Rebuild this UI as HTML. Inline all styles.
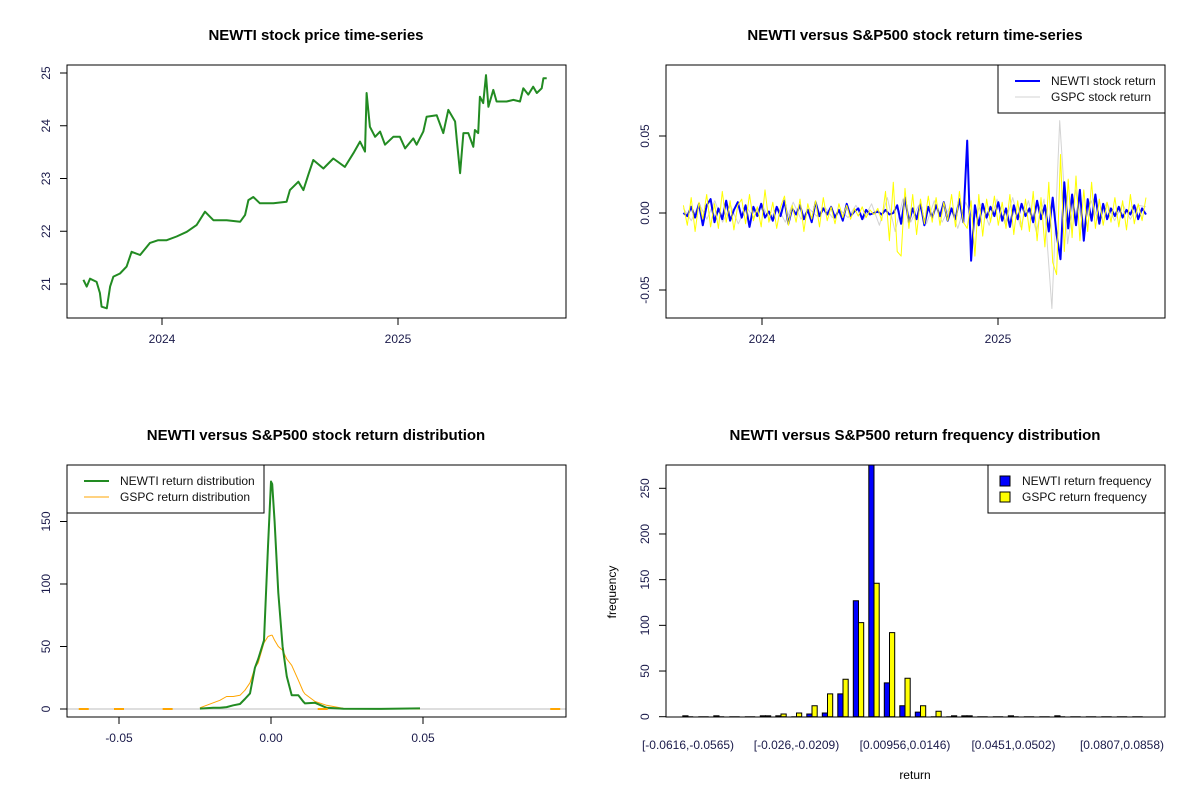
<!DOCTYPE html>
<html><head><meta charset="utf-8"><style>
body{margin:0;background:#fff}
svg{display:block;font-family:"Liberation Sans",sans-serif}
.t{font-weight:bold;font-size:15px;text-anchor:middle}
.tk{font-size:12px;fill:#1a1a4a}
</style></head><body>
<svg id="c" width="1200" height="800" viewBox="0 0 1200 800"></svg>
<script>
// ---- data ----
const priceDates=[2023.667,2023.681,2023.695,2023.723,2023.737,2023.744,2023.766,2023.780,2023.794,2023.822,2023.850,2023.871,2023.907,2023.949,2023.984,2024.020,2024.062,2024.105,2024.147,2024.182,2024.218,2024.274,2024.331,2024.352,2024.366,2024.387,2024.415,2024.472,2024.528,2024.542,2024.578,2024.599,2024.620,2024.641,2024.684,2024.726,2024.775,2024.811,2024.839,2024.860,2024.867,2024.881,2024.903,2024.924,2024.945,2024.980,2025.008,2025.030,2025.065,2025.079,2025.107,2025.121,2025.164,2025.192,2025.213,2025.242,2025.249,2025.263,2025.277,2025.298,2025.319,2025.326,2025.340,2025.347,2025.361,2025.373,2025.383,2025.404,2025.418,2025.460,2025.489,2025.517,2025.531,2025.552,2025.573,2025.588,2025.609,2025.616,2025.630];
const priceValues=[21.08,20.95,21.10,21.04,20.83,20.57,20.54,20.95,21.14,21.20,21.33,21.61,21.55,21.78,21.83,21.83,21.90,21.99,22.12,22.37,22.21,22.21,22.18,22.31,22.59,22.65,22.53,22.53,22.56,22.78,22.94,22.78,23.07,23.35,23.19,23.38,23.22,23.48,23.70,23.51,24.62,23.98,23.79,23.89,23.64,23.79,23.79,23.57,23.76,23.64,23.89,24.17,24.20,23.86,24.30,24.08,23.73,23.10,23.86,23.86,23.60,23.92,23.86,24.55,24.43,24.96,24.36,24.68,24.46,24.46,24.49,24.46,24.71,24.59,24.74,24.62,24.71,24.90,24.90];
const retStart=2023.667, retEnd=2025.627;
const newtiReturns=[0,-2,4,-3,6,-8,5,9,-6,3,-4,8,-5,2,7,-3,5,-9,4,-2,6,-3,1,-5,4,-2,8,-7,3,-1,5,-4,2,-6,7,-2,3,-1,4,-3,2,-5,6,-2,1,3,-4,2,-1,0,1,-1,2,-1,0,5,-7,10,-6,3,-4,6,-8,4,-3,5,-2,7,-5,3,-4,9,-6,47,-31,5,-8,6,-3,4,-2,7,-5,3,-9,5,-4,6,-2,3,-6,8,-4,5,-12,10,-14,-30,20,-10,12,-8,15,-18,9,-5,12,-7,6,-4,3,-2,4,-3,2,-1,5,-4,3,-1];
const gspcReturns=[5,-8,10,-12,7,-4,12,-9,6,-10,14,-6,8,-11,5,9,-7,12,-5,4,-9,15,-6,7,-10,4,11,-8,5,-6,9,-12,6,-4,8,-9,10,-5,4,-7,6,-3,5,-4,3,-2,4,-3,2,-1,3,-5,14,-18,20,-25,-28,16,-10,12,-14,9,-7,11,-6,10,-8,7,-5,12,-9,14,-6,-10,8,-28,12,-15,9,-6,11,-8,7,-10,12,-14,8,-11,9,-12,14,-18,10,-22,20,-32,-40,38,-25,22,-16,24,-18,15,-12,20,-10,9,-8,7,-6,10,-9,8,-11,12,-7,6,-5,10];
const gspcGray=[3,-5,6,-4,8,-6,5,-7,4,-3,6,-5,4,-6,7,-4,3,-2,4,-3,2,-3,5,-4,6,-8,10,-12,9,-6,5,-7,8,-6,4,-10,7,-5,6,-8,9,-7,10,-9,8,-12,9,-62,60,-20,15,-10,8,-6,7,-5,6,-4,5,4];
const densX=[-0.0234,-0.019,-0.0168,-0.0146,-0.0124,-0.0102,-0.0086,-0.0069,-0.0053,-0.0042,-0.0023,-0.001,0,0.0004,0.0012,0.0024,0.0038,0.0052,0.0068,0.009,0.0106,0.0112,0.0145,0.0183,0.0238,0.035,0.049];
const newtiDens=[0.3,1,1,1.5,3,4,8,12.5,33,40,55,130,182,180,150,93,50,26,11,11,6,4.5,5,1,0.2,0.1,0.5];
const gspcDens=[1,5,7,10,10,11,15,21,33,37,53,58,59,59,55,50,47,40,35,23,14,12,6,3,0.5,0.1,0];
const binLabels=["[-0.0616,-0.0565)","[-0.026,-0.0209)","[0.00956,0.0146)","[0.0451,0.0502)","[0.0807,0.0858)"];
const binLabelIdx=[0,7,14,21,28];
const newtiFreq=[1,0,1,0,0,1,1,0,3,4,25,127,290,37,12,5,0,0,1,0,0,1,0,0,1,0,0,0,0,0];
const gspcFreq=[0,0,0,0,0,1,3,4,12,25,41,103,146,92,42,12,6,1,1,0,0,0,0,0,0,0,0,0,0,0];

const svg=document.getElementById('c');const NS='http://www.w3.org/2000/svg';
function el(tag,attrs,parent,text){const e=document.createElementNS(NS,tag);for(const k in attrs)e.setAttribute(k,attrs[k]);if(text!==undefined)e.textContent=text;(parent||svg).appendChild(e);return e;}
function panel(name){const g=el('g',{});return g;}
function box(g,x0,y0,x1,y1){const r=el('rect',{x:x0,y:y0,width:x1-x0,height:y1-y0,fill:'none',stroke:'#000','stroke-width':1},g);}
function xtick(g,x,y,label){el('line',{x1:x,y1:y,x2:x,y2:y+7,stroke:'#000'},g);const t=el('text',{x:x,y:y+25,class:'tk','text-anchor':'middle'},g,label);}
function ytick(g,x,y,label){el('line',{x1:x-7,y1:y,x2:x,y2:y,stroke:'#000'},g);const t=el('text',{x:x-17,y:y,class:'tk','text-anchor':'middle',transform:`rotate(-90 ${x-17} ${y})`},g,label);}
function title(g,x,y,s){const t=el('text',{x:x,y:y,class:'t'},g,s);}
function poly(g,pts,color,w,name){const p=el('polyline',{points:pts.map(p=>p[0].toFixed(1)+','+p[1].toFixed(1)).join(' '),fill:'none',stroke:color,'stroke-width':w,'stroke-linejoin':'round'},g);return p;}
function legend(g,x0,y0,x1,y1,items){const lg=el('g',{},g);el('rect',{x:x0,y:y0,width:x1-x0,height:y1-y0,fill:'#fff',stroke:'#000'},lg);
items.forEach((it,i)=>{const y=y0+16+i*16;if(it.fill){el('rect',{x:x0+12,y:y-5,width:10,height:10,fill:it.fill,stroke:'#000'},lg);}else{el('line',{x1:x0+17,y1:y,x2:x0+42,y2:y,stroke:it.color,'stroke-width':it.w},lg);}
const t=el('text',{x:x0+(it.fill?34:53),y:y+4,'font-size':'12px',fill:'#111'},lg,it.label);});}

// ---- panel 1: price ----
{const g=panel('price-time-series');const L=67,R=566,T=65,B=318;
const xs=t=>162+(t-2024)*236, ys=v=>284-(v-21)*52.75;
title(g,316,40,'NEWTI stock price time-series');
poly(g,priceDates.map((d,i)=>[xs(d),ys(priceValues[i])]),'#228B22',2,'price-line');
box(g,L,T,R,B);[21,22,23,24,25].forEach(v=>ytick(g,L,ys(v),String(v)));
[2024,2025].forEach(v=>xtick(g,xs(v),B,String(v)));}

// ---- panel 2: returns ----
{const g=panel('return-time-series');const L=666,R=1165,T=65,B=318;
const xs=t=>762+(t-2024)*236, ys=v=>213-v*1.54;
title(g,915,40,'NEWTI versus S&P500 stock return time-series');
const tAt=(i,n)=>retStart+i*(retEnd-retStart)/(n-1);
poly(g,gspcGray.map((v,i)=>[xs(tAt(i,gspcGray.length)),ys(v)]),'#d3d3d3',1,'gspc-gray-line');
poly(g,newtiReturns.map((v,i)=>[xs(tAt(i,newtiReturns.length)),ys(v)]),'#0000ff',2,'newti-return-line');
poly(g,gspcReturns.map((v,i)=>[xs(tAt(i,gspcReturns.length)),ys(v)]),'#ffff00',1,'gspc-return-line');
box(g,L,T,R,B);[[-50,'-0.05'],[0,'0.00'],[50,'0.05']].forEach(a=>ytick(g,L,ys(a[0]),a[1]));
[2024,2025].forEach(v=>xtick(g,xs(v),B,String(v)));
legend(g,998,65,1165,113,[{label:'NEWTI stock return',color:'#0000ff',w:2},{label:'GSPC stock return',color:'#d3d3d3',w:1}]);}

// ---- panel 3: density ----
{const g=panel('return-distribution');const L=67,R=566,T=465,B=717;
const xs=v=>271+v*3040, ys=v=>709-v*1.25;
title(g,316,440,'NEWTI versus S&P500 stock return distribution');
el('line',{x1:L,y1:ys(0),x2:R,y2:ys(0),stroke:'#bebebe'},g);
poly(g,densX.map((x,i)=>[xs(x),ys(gspcDens[i])]),'#ffa500',1,'gspc-density-line');
poly(g,densX.map((x,i)=>[xs(x),ys(newtiDens[i])]),'#228B22',2,'newti-density-line');
[-0.0616,-0.05,-0.034,0.017,0.0935].forEach(x=>el('line',{x1:xs(x)-5,y1:ys(0),x2:xs(x)+5,y2:ys(0),stroke:'#ffa500','stroke-width':2},g));
box(g,L,T,R,B);[0,50,100,150].forEach(v=>ytick(g,L,ys(v),String(v)));
[[-0.05,'-0.05'],[0,'0.00'],[0.05,'0.05']].forEach(a=>xtick(g,xs(a[0]),B,a[1]));
legend(g,67,465,264,513,[{label:'NEWTI return distribution',color:'#228B22',w:2},{label:'GSPC return distribution',color:'#ffa500',w:1}]);}

// ---- panel 4: histogram ----
{const g=panel('return-frequency-histogram');const L=666,R=1165,T=465,B=717;
const ys=v=>716.7-v*0.9136, gx=i=>688+i*15.5, bw=5.2;
title(g,915,440,'NEWTI versus S&P500 return frequency distribution');
const clip=el('clipPath',{id:'hc'},g);el('rect',{x:L,y:T,width:R-L,height:B-T},clip);
const bars=el('g',{'clip-path':'url(#hc)'},g);
function bar(x,v,fill){const y0=ys(0),y=ys(v);return el('path',{d:`M${x.toFixed(1)},${y0.toFixed(1)}V${y.toFixed(1)}H${(x+bw).toFixed(1)}V${y0.toFixed(1)}Z`,fill:fill,stroke:'#000','stroke-width':1},bars);}
newtiFreq.forEach((v,i)=>{const r=bar(gx(i)-bw,v,'#0000ff');});
gspcFreq.forEach((v,i)=>{const r=bar(gx(i),v,'#ffff00');});
box(g,L,T,R,B);[0,50,100,150,200,250].forEach(v=>ytick(g,L,ys(v),String(v)));
binLabels.forEach((s,k)=>{const t=el('text',{x:gx(binLabelIdx[k]),y:B+32,class:'tk','text-anchor':'middle'},g,s);});
const xl=el('text',{x:915,y:779,'font-size':'12px','text-anchor':'middle'},g,'return');
const yl=el('text',{x:616,y:592,'font-size':'12px','text-anchor':'middle',transform:'rotate(-90 616 592)'},g,'frequency');
legend(g,988,465,1165,513,[{label:'NEWTI return frequency',fill:'#0000ff'},{label:'GSPC return frequency',fill:'#ffff00'}]);}
</script>
</body></html>
